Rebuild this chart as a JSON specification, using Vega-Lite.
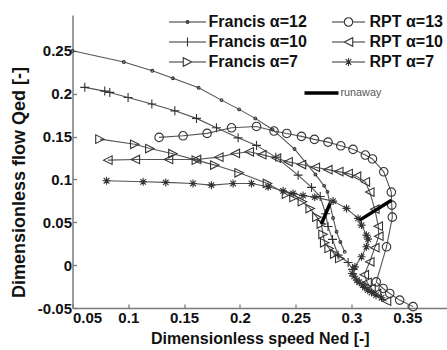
{
  "$schema": "https://vega.github.io/schema/vega-lite/v6.json",
  "width": 374.5,
  "height": 293,
  "autosize": "none",
  "padding": {"left": 72.5, "top": 15, "right": 0, "bottom": 42},
  "background": "white",
  "config": {
    "view": {"stroke": null},
    "font": "Liberation Sans",
    "axis": {
      "domainColor": "#7a7a7a",
      "domainWidth": 1.5,
      "tickColor": "#7a7a7a",
      "tickWidth": 1.3,
      "tickSize": -4,
      "grid": false,
      "labelFont": "Liberation Sans",
      "labelFontSize": 15,
      "labelFontWeight": "bold",
      "labelColor": "#111",
      "titleFont": "Liberation Sans",
      "titleFontSize": 16,
      "titleFontWeight": "bold",
      "titleColor": "#111",
      "labelExpr": "'' + datum.value"
    }
  },
  "datasets": {
    "curves": [
      {"s": "Francis α=12", "k": 1, "n": 0.050, "q": 0.250},
      {"s": "Francis α=12", "k": 2, "n": 0.096, "q": 0.237},
      {"s": "Francis α=12", "k": 3, "n": 0.1215, "q": 0.2267},
      {"s": "Francis α=12", "k": 4, "n": 0.140, "q": 0.218},
      {"s": "Francis α=12", "k": 5, "n": 0.163, "q": 0.207},
      {"s": "Francis α=12", "k": 6, "n": 0.1835, "q": 0.1925},
      {"s": "Francis α=12", "k": 7, "n": 0.1993, "q": 0.1817},
      {"s": "Francis α=12", "k": 8, "n": 0.2138, "q": 0.1712},
      {"s": "Francis α=12", "k": 9, "n": 0.2292, "q": 0.1583},
      {"s": "Francis α=12", "k": 10, "n": 0.249, "q": 0.1354},
      {"s": "Francis α=12", "k": 11, "n": 0.2677, "q": 0.1058},
      {"s": "Francis α=12", "k": 12, "n": 0.2755, "q": 0.0925},
      {"s": "Francis α=12", "k": 13, "n": 0.2785, "q": 0.0855},
      {"s": "Francis α=12", "k": 14, "n": 0.2806, "q": 0.0715},
      {"s": "Francis α=12", "k": 15, "n": 0.2835, "q": 0.055},
      {"s": "Francis α=12", "k": 16, "n": 0.2866, "q": 0.039},
      {"s": "Francis α=12", "k": 17, "n": 0.290, "q": 0.027},
      {"s": "Francis α=12", "k": 18, "n": 0.294, "q": 0.0155},

      {"s": "Francis α=10", "k": 1, "n": 0.061, "q": 0.2074},
      {"s": "Francis α=10", "k": 2, "n": 0.0789, "q": 0.203},
      {"s": "Francis α=10", "k": 3, "n": 0.0834, "q": 0.2015},
      {"s": "Francis α=10", "k": 4, "n": 0.0998, "q": 0.1955},
      {"s": "Francis α=10", "k": 5, "n": 0.1211, "q": 0.1879},
      {"s": "Francis α=10", "k": 6, "n": 0.1417, "q": 0.180},
      {"s": "Francis α=10", "k": 7, "n": 0.1611, "q": 0.1712},
      {"s": "Francis α=10", "k": 8, "n": 0.179, "q": 0.1602},
      {"s": "Francis α=10", "k": 9, "n": 0.1984, "q": 0.1485},
      {"s": "Francis α=10", "k": 10, "n": 0.2149, "q": 0.1397},
      {"s": "Francis α=10", "k": 11, "n": 0.2322, "q": 0.126},
      {"s": "Francis α=10", "k": 12, "n": 0.2522, "q": 0.105},
      {"s": "Francis α=10", "k": 13, "n": 0.2642, "q": 0.0907},
      {"s": "Francis α=10", "k": 14, "n": 0.272, "q": 0.080},
      {"s": "Francis α=10", "k": 15, "n": 0.2768, "q": 0.060},
      {"s": "Francis α=10", "k": 16, "n": 0.279, "q": 0.045},
      {"s": "Francis α=10", "k": 17, "n": 0.283, "q": 0.030},
      {"s": "Francis α=10", "k": 18, "n": 0.288, "q": 0.0117},
      {"s": "Francis α=10", "k": 19, "n": 0.297, "q": 0.0031},
      {"s": "Francis α=10", "k": 20, "n": 0.301, "q": -0.005},

      {"s": "Francis α=7", "k": 1, "n": 0.0746, "q": 0.147},
      {"s": "Francis α=7", "k": 2, "n": 0.1058, "q": 0.141},
      {"s": "Francis α=7", "k": 3, "n": 0.1193, "q": 0.136},
      {"s": "Francis α=7", "k": 4, "n": 0.140, "q": 0.130},
      {"s": "Francis α=7", "k": 5, "n": 0.161, "q": 0.1225},
      {"s": "Francis α=7", "k": 6, "n": 0.1775, "q": 0.1167},
      {"s": "Francis α=7", "k": 7, "n": 0.1993, "q": 0.1077},
      {"s": "Francis α=7", "k": 8, "n": 0.2247, "q": 0.0953},
      {"s": "Francis α=7", "k": 9, "n": 0.2418, "q": 0.0828},
      {"s": "Francis α=7", "k": 10, "n": 0.2485, "q": 0.079},
      {"s": "Francis α=7", "k": 11, "n": 0.256, "q": 0.074},
      {"s": "Francis α=7", "k": 12, "n": 0.263, "q": 0.066},
      {"s": "Francis α=7", "k": 13, "n": 0.269, "q": 0.056},
      {"s": "Francis α=7", "k": 14, "n": 0.273, "q": 0.048},
      {"s": "Francis α=7", "k": 15, "n": 0.2745, "q": 0.036},
      {"s": "Francis α=7", "k": 16, "n": 0.276, "q": 0.026},
      {"s": "Francis α=7", "k": 17, "n": 0.280, "q": 0.0195},
      {"s": "Francis α=7", "k": 18, "n": 0.285, "q": 0.013},
      {"s": "Francis α=7", "k": 19, "n": 0.2895, "q": 0.0078},

      {"s": "RPT α=13", "k": 1, "n": 0.1276, "q": 0.149},
      {"s": "RPT α=13", "k": 2, "n": 0.1491, "q": 0.1509},
      {"s": "RPT α=13", "k": 3, "n": 0.1706, "q": 0.1537},
      {"s": "RPT α=13", "k": 4, "n": 0.1925, "q": 0.1602},
      {"s": "RPT α=13", "k": 5, "n": 0.2149, "q": 0.1618},
      {"s": "RPT α=13", "k": 6, "n": 0.2306, "q": 0.1564},
      {"s": "RPT α=13", "k": 7, "n": 0.242, "q": 0.1536},
      {"s": "RPT α=13", "k": 8, "n": 0.2552, "q": 0.1502},
      {"s": "RPT α=13", "k": 9, "n": 0.2668, "q": 0.1467},
      {"s": "RPT α=13", "k": 10, "n": 0.279, "q": 0.1435},
      {"s": "RPT α=13", "k": 11, "n": 0.2904, "q": 0.1392},
      {"s": "RPT α=13", "k": 12, "n": 0.3014, "q": 0.1351},
      {"s": "RPT α=13", "k": 13, "n": 0.3124, "q": 0.1284},
      {"s": "RPT α=13", "k": 14, "n": 0.3188, "q": 0.1239},
      {"s": "RPT α=13", "k": 15, "n": 0.3289, "q": 0.1089},
      {"s": "RPT α=13", "k": 16, "n": 0.3357, "q": 0.0852},
      {"s": "RPT α=13", "k": 17, "n": 0.3361, "q": 0.070},
      {"s": "RPT α=13", "k": 18, "n": 0.3366, "q": 0.056},
      {"s": "RPT α=13", "k": 19, "n": 0.3314, "q": 0.0214},
      {"s": "RPT α=13", "k": 20, "n": 0.3222, "q": -0.0195},
      {"s": "RPT α=13", "k": 21, "n": 0.3283, "q": -0.0272},
      {"s": "RPT α=13", "k": 22, "n": 0.3343, "q": -0.033},
      {"s": "RPT α=13", "k": 23, "n": 0.3432, "q": -0.0408},
      {"s": "RPT α=13", "k": 24, "n": 0.3552, "q": -0.0484},

      {"s": "RPT α=10", "k": 1, "n": 0.0817, "q": 0.1225},
      {"s": "RPT α=10", "k": 2, "n": 0.1063, "q": 0.1233},
      {"s": "RPT α=10", "k": 3, "n": 0.136, "q": 0.1233},
      {"s": "RPT α=10", "k": 4, "n": 0.1611, "q": 0.1233},
      {"s": "RPT α=10", "k": 5, "n": 0.1811, "q": 0.126},
      {"s": "RPT α=10", "k": 6, "n": 0.1959, "q": 0.1303},
      {"s": "RPT α=10", "k": 7, "n": 0.2084, "q": 0.1322},
      {"s": "RPT α=10", "k": 8, "n": 0.2196, "q": 0.1289},
      {"s": "RPT α=10", "k": 9, "n": 0.2328, "q": 0.1248},
      {"s": "RPT α=10", "k": 10, "n": 0.2432, "q": 0.1205},
      {"s": "RPT α=10", "k": 11, "n": 0.2552, "q": 0.1173},
      {"s": "RPT α=10", "k": 12, "n": 0.2676, "q": 0.1141},
      {"s": "RPT α=10", "k": 13, "n": 0.2788, "q": 0.1114},
      {"s": "RPT α=10", "k": 14, "n": 0.2886, "q": 0.1091},
      {"s": "RPT α=10", "k": 15, "n": 0.297, "q": 0.1068},
      {"s": "RPT α=10", "k": 16, "n": 0.3045, "q": 0.1038},
      {"s": "RPT α=10", "k": 17, "n": 0.3124, "q": 0.0972},
      {"s": "RPT α=10", "k": 18, "n": 0.3164, "q": 0.0852},
      {"s": "RPT α=10", "k": 19, "n": 0.3209, "q": 0.0653},
      {"s": "RPT α=10", "k": 20, "n": 0.324, "q": 0.0455},
      {"s": "RPT α=10", "k": 21, "n": 0.3245, "q": 0.0338},
      {"s": "RPT α=10", "k": 22, "n": 0.3209, "q": 0.0204},
      {"s": "RPT α=10", "k": 23, "n": 0.3164, "q": 0.0039},
      {"s": "RPT α=10", "k": 24, "n": 0.3115, "q": -0.0111},
      {"s": "RPT α=10", "k": 25, "n": 0.314, "q": -0.020},
      {"s": "RPT α=10", "k": 26, "n": 0.3175, "q": -0.027},
      {"s": "RPT α=10", "k": 27, "n": 0.3224, "q": -0.033},
      {"s": "RPT α=10", "k": 28, "n": 0.3314, "q": -0.042},

      {"s": "RPT α=7", "k": 1, "n": 0.0805, "q": 0.0984},
      {"s": "RPT α=7", "k": 2, "n": 0.1133, "q": 0.0972},
      {"s": "RPT α=7", "k": 3, "n": 0.1336, "q": 0.0965},
      {"s": "RPT α=7", "k": 4, "n": 0.158, "q": 0.0953},
      {"s": "RPT α=7", "k": 5, "n": 0.1745, "q": 0.0933},
      {"s": "RPT α=7", "k": 6, "n": 0.1939, "q": 0.0953},
      {"s": "RPT α=7", "k": 7, "n": 0.2104, "q": 0.0953},
      {"s": "RPT α=7", "k": 8, "n": 0.2253, "q": 0.0914},
      {"s": "RPT α=7", "k": 9, "n": 0.2387, "q": 0.0867},
      {"s": "RPT α=7", "k": 10, "n": 0.2477, "q": 0.0837},
      {"s": "RPT α=7", "k": 11, "n": 0.2566, "q": 0.0811},
      {"s": "RPT α=7", "k": 12, "n": 0.2671, "q": 0.0793},
      {"s": "RPT α=7", "k": 13, "n": 0.2835, "q": 0.0747},
      {"s": "RPT α=7", "k": 14, "n": 0.2955, "q": 0.0662},
      {"s": "RPT α=7", "k": 15, "n": 0.3059, "q": 0.0545},
      {"s": "RPT α=7", "k": 16, "n": 0.309, "q": 0.0467},
      {"s": "RPT α=7", "k": 17, "n": 0.3134, "q": 0.035},
      {"s": "RPT α=7", "k": 18, "n": 0.3149, "q": 0.0303},
      {"s": "RPT α=7", "k": 19, "n": 0.3134, "q": 0.0214},
      {"s": "RPT α=7", "k": 20, "n": 0.309, "q": 0.0097},
      {"s": "RPT α=7", "k": 21, "n": 0.303, "q": -0.002},
      {"s": "RPT α=7", "k": 22, "n": 0.3005, "q": -0.0097},
      {"s": "RPT α=7", "k": 23, "n": 0.3025, "q": -0.013},
      {"s": "RPT α=7", "k": 24, "n": 0.3048, "q": -0.0175},
      {"s": "RPT α=7", "k": 25, "n": 0.307, "q": -0.020},
      {"s": "RPT α=7", "k": 26, "n": 0.3101, "q": -0.0233},
      {"s": "RPT α=7", "k": 27, "n": 0.312, "q": -0.026},
      {"s": "RPT α=7", "k": 28, "n": 0.3146, "q": -0.0292},
      {"s": "RPT α=7", "k": 29, "n": 0.318, "q": -0.032},
      {"s": "RPT α=7", "k": 30, "n": 0.322, "q": -0.035},
      {"s": "RPT α=7", "k": 31, "n": 0.327, "q": -0.038}
    ],
    "runaway": [
      {"lab": "runaway", "seg": "Francis", "n": 0.273, "q": 0.048},
      {"lab": "runaway", "seg": "Francis", "n": 0.2806, "q": 0.0715},
      {"lab": "runaway", "seg": "RPT", "n": 0.3074, "q": 0.0525},
      {"lab": "runaway", "seg": "RPT", "n": 0.3358, "q": 0.0758}
    ]
  },
  "encoding": {
    "x": {
      "field": "n", "type": "quantitative",
      "scale": {"domain": [0.05, 0.3856], "nice": false, "zero": false},
      "axis": {
        "title": "Dimensionless speed Ned [-]",
        "values": [0.05, 0.1, 0.15, 0.2, 0.25, 0.3, 0.35],
        "labelPadding": 6,
        "titleY": 35,
        "titleBaseline": "alphabetic"
      }
    },
    "y": {
      "field": "q", "type": "quantitative",
      "scale": {"domain": [-0.05, 0.2918], "nice": false, "zero": false},
      "axis": {
        "title": "Dimensionless flow Qed [-]",
        "values": [-0.05, 0, 0.05, 0.1, 0.15, 0.2, 0.25],
        "labelPadding": 5,
        "titleFontSize": 18,
        "titleX": -53,
        "titleY": 167,
        "titleBaseline": "middle"
      }
    }
  },
  "layer": [
    {
      "data": {"name": "curves"},
      "mark": {"type": "line", "color": "#555", "strokeWidth": 1.1},
      "encoding": {
        "detail": {"field": "s"},
        "order": {"field": "k", "type": "quantitative"}
      }
    },
    {
      "data": {"name": "curves"},
      "mark": {"type": "point", "filled": false, "color": "#333", "strokeWidth": 1.1, "size": 100, "opacity": 1},
      "encoding": {
        "shape": {
          "field": "s", "type": "nominal",
          "scale": {
            "domain": ["Francis α=12", "Francis α=10", "Francis α=7", "RPT α=13", "RPT α=10", "RPT α=7"],
            "range": [
              "M0.28,0A0.28,0.28,0,1,1,-0.28,0A0.28,0.28,0,1,1,0.28,0Z",
              "M-0.9,0L0.9,0M0,-0.9L0,0.9",
              "M0.85,0L-0.85,-0.85L-0.85,0.85Z",
              "M0.85,0A0.85,0.85,0,1,1,-0.85,0A0.85,0.85,0,1,1,0.85,0Z",
              "M-0.85,0L0.85,-0.85L0.85,0.85Z",
              "M-0.8,0L0.8,0M0,-0.8L0,0.8M-0.56,-0.56L0.56,0.56M-0.56,0.56L0.56,-0.56"
            ]
          },
          "legend": null
        }
      }
    },
    {
      "data": {"name": "curves"},
      "transform": [{"filter": "false"}],
      "mark": {"type": "point", "filled": false, "color": "#333", "strokeWidth": 1.1, "size": 100, "opacity": 1},
      "encoding": {
        "shape": {
          "field": "s", "type": "nominal",
          "scale": {
            "domain": ["Francis α=12", "Francis α=10", "Francis α=7", "RPT α=13", "RPT α=10", "RPT α=7"],
            "range": [
              "M-3.7,0L3.7,0M0.28,0A0.28,0.28,0,1,1,-0.28,0A0.28,0.28,0,1,1,0.28,0Z",
              "M-3.7,0L3.7,0M0,-0.9L0,0.9",
              "M-3.7,0L-0.85,0M0.85,0L3.7,0M0.85,0L-0.85,-0.85L-0.85,0.85Z",
              "M-3.3,0L-0.85,0M0.85,0L3.3,0M0.85,0A0.85,0.85,0,1,1,-0.85,0A0.85,0.85,0,1,1,0.85,0Z",
              "M-3.3,0L-0.85,0M0.85,0L3.3,0M-0.85,0L0.85,-0.85L0.85,0.85Z",
              "M-3.3,0L3.3,0M0,-0.8L0,0.8M-0.56,-0.56L0.56,0.56M-0.56,0.56L0.56,-0.56"
            ]
          },
          "legend": {
            "title": null,
            "orient": "none",
            "legendX": 107,
            "legendY": -1,
            "columns": 2,
            "columnPadding": 22,
            "rowPadding": 4,
            "symbolSize": 100,
            "symbolStrokeWidth": 1.1,
            "symbolStrokeColor": "#333",
            "labelFont": "Liberation Sans",
            "labelFontSize": 16,
            "labelFontWeight": "bold",
            "labelColor": "#111",
            "labelOffset": 13
          }
        }
      }
    },
    {
      "data": {"name": "runaway"},
      "mark": {"type": "line", "strokeWidth": 3.5},
      "encoding": {
        "detail": {"field": "seg"},
        "color": {
          "field": "lab", "type": "nominal",
          "scale": {"range": ["#000"]},
          "legend": {
            "title": null,
            "orient": "none",
            "legendX": 230,
            "legendY": 59,
            "symbolType": "stroke",
            "symbolSize": 1156,
            "symbolStrokeWidth": 3.5,
            "labelFont": "Liberation Sans",
            "labelFontSize": 10.8,
            "labelFontWeight": "normal",
            "labelColor": "#555",
            "labelOffset": 0
          }
        }
      }
    }
  ],
  "resolve": {"scale": {"shape": "independent"}}
}
